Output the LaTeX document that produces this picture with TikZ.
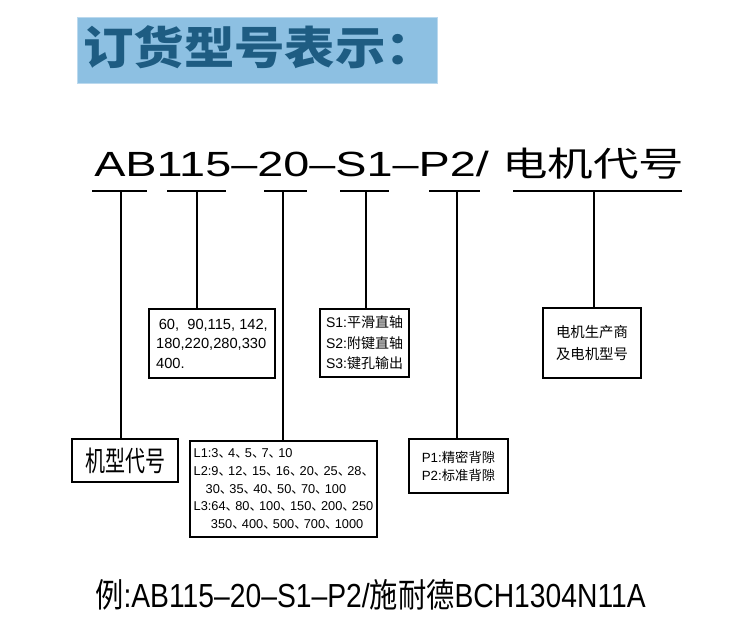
\documentclass[tikz,border=0pt]{standalone}
\usepackage{fontspec}
\setmainfont{Liberation Sans}
\newfontfamily\cjk{Noto Sans CJK SC}
\usepackage{graphicx}
\usepackage{tikz}
\usetikzlibrary{positioning}
\definecolor{bannerblue}{RGB}{141,192,226}
\definecolor{titleblue}{RGB}{30,92,130}
\tikzstyle{ulin} = [line width=1.1pt]
\tikzstyle{vlin} = [line width=0.9pt]
\tikzstyle{bx} = [draw, line width=1.2pt, shape=rectangle, anchor=north west, inner sep=0pt, outer sep=0pt, align=left]
\tikzstyle{txt} = [anchor=base west, inner sep=0pt]
\newcommand{\dn}{{\cjk 、}\kern-0.25em}

\begin{document}
\begin{tikzpicture}[x=0.75pt, y=-0.75pt]
	\fill[white] (0,0) rectangle (755,634);
	\useasboundingbox (0,0) rectangle (755,634);
	% title
	\node[fill=bannerblue, draw=bannerblue!60!white, anchor=north west, inner sep=0pt, minimum width=270pt, minimum height=49.5pt] (banner) at (77,17) {};
	\node[txt, text=titleblue, font=\cjk\bfseries\fontsize{33.75}{40}\selectfont] (title) at (83,65) {\scalebox{1.12}[1]{订货型号表示：}};
	% model code
	\node[txt, font=\fontsize{26.25}{30}\selectfont] (code) at (94,177) {\scalebox{1.337}[1]{AB115–20–S1–P2/}\hspace{10pt}{\cjk\fontsize{25.5}{30}\selectfont\scalebox{1.34}[1]{电机代号}}};
	\coordinate (t1) at (121,191);
	\coordinate (t2) at (197,191);
	\coordinate (t3) at (283,191);
	\coordinate (t4) at (366,191);
	\coordinate (t5) at (457,191);
	\coordinate (t6) at (594,191);
	\draw[ulin] (t1) ++(-29,0) -- ++(55,0);
	\draw[ulin] (t2) ++(-30,0) -- ++(59,0);
	\draw[ulin] (t3) ++(-19,0) -- ++(43,0);
	\draw[ulin] (t4) ++(-26,0) -- ++(49,0);
	\draw[ulin] (t5) ++(-28,0) -- ++(51,0);
	\draw[ulin] (t6) ++(-81,0) -- ++(169,0);
	% boxes
	\node[bx, align=center, minimum width=79.5pt, minimum height=32.25pt, font=\cjk\fontsize{15}{18}\selectfont] (bxmodel) at (72,439) {\scalebox{1}[1.4]{机型代号}};
	\node[bx, minimum width=94.5pt, minimum height=51.75pt, font=\fontsize{11}{14.6}\selectfont] (bxsize) at (149,309) {\hspace{2pt}60, \ 90,115, 142,\\180,220,280,330\\400.};
	\node[bx, minimum width=140.25pt, minimum height=72pt, font=\fontsize{9.6}{13.3}\selectfont] (bxratio) at (190,441) {L1:3\dn 4\dn 5\dn 7\dn 10\\L2:9\dn 12\dn 15\dn 16\dn 20\dn 25\dn 28\dn\\\hspace{9pt}30\dn 35\dn 40\dn 50\dn 70\dn 100\\L3:64\dn 80\dn 100\dn 150\dn 200\dn 250\\\hspace{13pt}350\dn 400\dn 500\dn 700\dn 1000};
	\node[bx, minimum width=66.75pt, minimum height=51pt, font=\fontsize{10.5}{15.4}\selectfont] (bxshaft) at (320,309) {S1:{\cjk 平滑直轴}\\S2:{\cjk 附键直轴}\\S3:{\cjk 键孔输出}};
	\node[bx, minimum width=74.25pt, minimum height=40.5pt, font=\fontsize{10}{13.5}\selectfont] (bxback) at (409,439) {P1:{\cjk 精密背隙}\\P2:{\cjk 标准背隙}};
	\node[bx, minimum width=73.5pt, minimum height=52.5pt, font=\cjk\fontsize{10.8}{16.5}\selectfont] (bxmotor) at (543,308) {电机生产商\\及电机型号};
	% leaders
	\draw[vlin] (t1) -- (t1 |- bxmodel.north);
	\draw[vlin] (t2) -- (t2 |- bxsize.north);
	\draw[vlin] (t3) -- (t3 |- bxratio.north);
	\draw[vlin] (t4) -- (t4 |- bxshaft.north);
	\draw[vlin] (t5) -- (t5 |- bxback.north);
	\draw[vlin] (t6) -- (t6 |- bxmotor.north);
	% example
	\node[txt, font=\fontsize{21.2}{26}\selectfont] (example) at (95,607) {\scalebox{1}[1.18]{{\cjk 例}:AB115–20–S1–P2/{\cjk 施耐德}BCH1304N11A}};
\end{tikzpicture}
\end{document}
